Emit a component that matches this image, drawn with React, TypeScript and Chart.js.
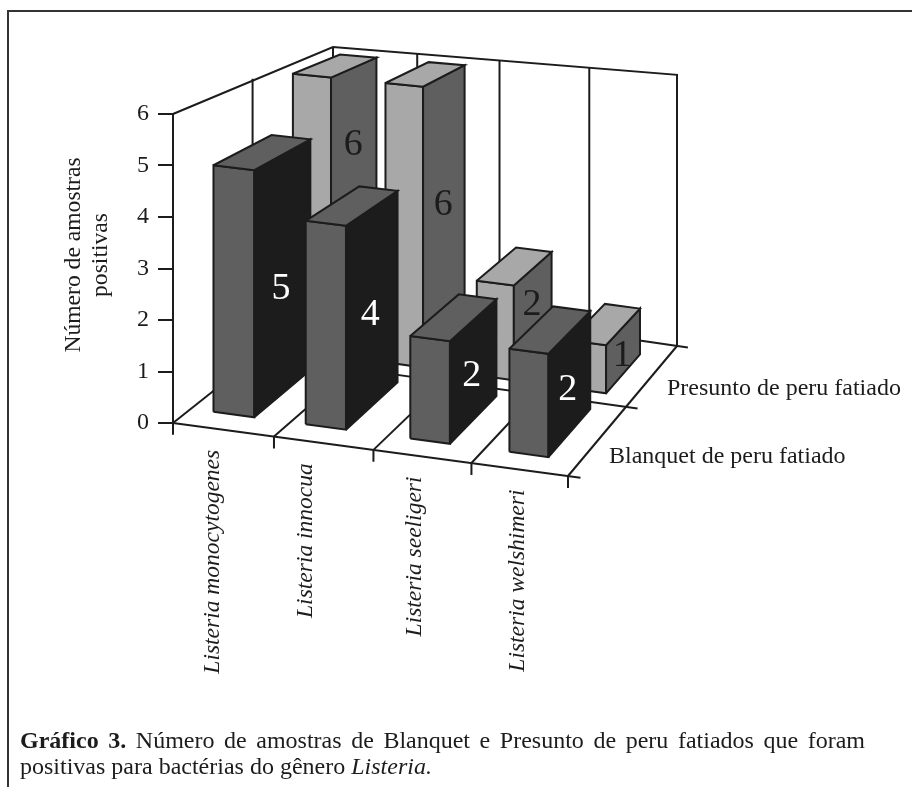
import React, { useEffect, useRef } from "react";
import { Chart, registerables } from "chart.js";

Chart.register(...registerables);

// ---- data ----
const categories = ["Listeria monocytogenes", "Listeria innocua", "Listeria seeligeri", "Listeria welshimeri"];
const seriesNames = ["Blanquet de peru fatiado", "Presunto de peru fatiado"];
const blanquetValues = [5, 4, 2, 2];
const presuntoValues = [6, 6, 2, 1];
const valueTicks = [0, 1, 2, 3, 4, 5, 6];
const axisTitle = ["Número de amostras", "positivas"];
// height (in axis units) at which each value label sits on the bar's side face
const blanquetLabelAt = [2.14, 1.86, 0.88, 0.87];
const presuntoLabelAt = [4.28, 3.16, 1.23, 0.4];
// centre of each bar along the category axis
const blanquetCentres = [0.43, 1.36, 2.43, 3.46];
const presuntoCentres = [0.45, 1.45, 2.45, 3.48];
// drawn-height correction per front bar (the source drawing is not perfectly regular)
const blanquetHeightScale = [0.975, 1, 1, 1];
// position of the back-wall gridlines along the category axis, left-wall gridline in depth
const wallGridU = [0.96, 1.91, 2.96];
const wallGridD = [0.93];
// sideways nudge of each rotated category label
const categoryLabelNudge = [-3, -10, 0, 6];

// ---- view geometry ----
const W = 912;
const H = 787;
const Y0 = 423;
const UNIT = 51.5;
const AXIS_X = 173;
const floor = { x00: 173, y00: 423, x10: 568, y10: 476, x11: 677, y11: 346, x01: 333, y01: 296 };
const rise = { h00: 51.5, h10: 52.5, h11: 45.2, h01: 41.5 };
const BAR_W = 0.41;
const DEPTH_A = [0.2, 0.15];
const DEPTH_B = [0.9, 0.79];
const INK = "#1c1c1c";
const SERIF = '"Liberation Serif", "Times New Roman", serif';

const dx1 = floor.x10 - floor.x11, dx2 = floor.x01 - floor.x11, sx = floor.x00 - floor.x10 + floor.x11 - floor.x01;
const dy1 = floor.y10 - floor.y11, dy2 = floor.y01 - floor.y11, sy = floor.y00 - floor.y10 + floor.y11 - floor.y01;
const det = dx1 * dy2 - dx2 * dy1;
const g = (sx * dy2 - dx2 * sy) / det;
const h = (dx1 * sy - sx * dy1) / det;
const ax = floor.x10 - floor.x00 + g * floor.x10, bx = floor.x01 - floor.x00 + h * floor.x01;
const ay = floor.y10 - floor.y00 + g * floor.y10, by = floor.y01 - floor.y00 + h * floor.y01;

// category position u (0..4), depth d (0..2), value v -> chart data point
function project(u: number, d: number, v: number) {
  const s = u / 4, t = d / 2;
  const w = g * s + h * t + 1;
  const px = (ax * s + bx * t + floor.x00) / w;
  const py = (ay * s + by * t + floor.y00) / w;
  const hh = rise.h00 * (1 - s) * (1 - t) + rise.h10 * s * (1 - t) + rise.h11 * s * t + rise.h01 * (1 - s) * t;
  const pixY = py - v * hh;
  return { x: px, y: (Y0 - pixY) / UNIT };
}

type DS = any;
const list: DS[] = [];
function stroke(points: { x: number; y: number }[], width = 2) {
  list.push({ type: "line", data: points, borderColor: INK, borderWidth: width, pointRadius: 0, fill: false, tension: 0, clip: false });
}
function face(points: { x: number; y: number }[], color: string) {
  list.push({
    type: "line", data: [...points, points[0]], borderColor: INK, borderWidth: 2, pointRadius: 0, fill: false,
    tension: 0, clip: false, faceColor: color, borderJoinStyle: "miter",
  });
}

// walls, floor and axis marks
const MAX_V = valueTicks[valueTicks.length - 1];
stroke([project(0, 0, 0), project(0, 0, MAX_V), project(0, 2, MAX_V), project(4, 2, MAX_V), project(4, 2, 0)]);
wallGridD.forEach((d) => stroke([project(0, d, 0), project(0, d, MAX_V)]));
wallGridU.forEach((u) => stroke([project(u, 2, 0), project(u, 2, MAX_V)]));
stroke([project(0, 2, 0), project(0, 2, MAX_V)]);
[0, 1, 2].forEach((d) => stroke([project(0, d, 0), project(4.13, d, 0)]));
[0, 1, 2, 3, 4].forEach((u) => {
  stroke([project(u, 0, 0), project(u, 2, 0)]);
  stroke([project(u, 0, 0), project(u, 0, -0.23)]);
});

function addBar(c: number, row: number, value: number, frontTop: string, side: string) {
  const u0 = c - BAR_W / 2, u1 = c + BAR_W / 2;
  const d0 = row + DEPTH_A[row], d1 = row + DEPTH_B[row];
  face([project(u0, d0, 0), project(u1, d0, 0), project(u1, d0, value), project(u0, d0, value)], frontTop);
  face([project(u1, d0, 0), project(u1, d1, 0), project(u1, d1, value), project(u1, d0, value)], side);
  face([project(u0, d0, value), project(u1, d0, value), project(u1, d1, value), project(u0, d1, value)], frontTop);
}
presuntoValues.forEach((v, i) => addBar(presuntoCentres[i], 1, v, "#a8a8a8", "#5f5f5f"));
blanquetValues.forEach((v, i) => addBar(blanquetCentres[i], 0, v * blanquetHeightScale[i], "#5f5f5f", "#1c1c1c"));
list.forEach((d, i) => (d.order = list.length - i));

const facePlugin = {
  id: "faces",
  beforeDatasetDraw(chart: any, args: any) {
    const ds = chart.data.datasets[args.index];
    if (!ds.faceColor) return;
    const pts = args.meta.data;
    const ctx = chart.ctx;
    ctx.save();
    ctx.beginPath();
    pts.forEach((p: any, k: number) => (k ? ctx.lineTo(p.x, p.y) : ctx.moveTo(p.x, p.y)));
    ctx.closePath();
    ctx.fillStyle = ds.faceColor;
    ctx.fill();
    ctx.restore();
  },
};

const textPlugin = {
  id: "texts",
  beforeDraw(chart: any) {
    const ctx = chart.ctx;
    ctx.save();
    ctx.strokeStyle = "#333";
    ctx.lineWidth = 2;
    ctx.beginPath();
    ctx.moveTo(8, H);
    ctx.lineTo(8, 11);
    ctx.lineTo(W, 11);
    ctx.stroke();
    ctx.restore();
  },
  afterDatasetsDraw(chart: any) {
    const ctx = chart.ctx;
    const xs = chart.scales.x, ys = chart.scales.y;
    const at = (p: { x: number; y: number }) => ({ x: xs.getPixelForValue(p.x), y: ys.getPixelForValue(p.y) });
    ctx.save();
    ctx.fillStyle = INK;

    // value labels on the side faces
    ctx.font = `38px ${SERIF}`;
    ctx.textAlign = "center";
    ctx.textBaseline = "middle";
    const label = (c: number, row: number, value: number, lv: number, color: string, nudge: number) => {
      const u = c + BAR_W / 2;
      const p = at(project(u, row + (DEPTH_A[row] + DEPTH_B[row]) / 2, lv));
      ctx.fillStyle = color;
      ctx.fillText(String(value), p.x + nudge, p.y + 1);
    };
    presuntoValues.forEach((v, i) => label(presuntoCentres[i], 1, v, presuntoLabelAt[i], INK, -1));
    blanquetValues.forEach((v, i) => label(blanquetCentres[i], 0, v, blanquetLabelAt[i], "#ffffff", -2));

    ctx.fillStyle = INK;
    ctx.textBaseline = "alphabetic";

    // category labels
    ctx.font = `italic 23.5px ${SERIF}`;
    categories.forEach((c, i) => {
      const p = at(project(i + 0.5, 0, 0));
      ctx.save();
      ctx.translate(p.x - 2 + categoryLabelNudge[i], p.y + 20);
      ctx.rotate(-Math.PI / 2);
      ctx.textAlign = "right";
      ctx.fillText(c, 0, 0);
      ctx.restore();
    });

    // depth series labels
    ctx.font = `24px ${SERIF}`;
    ctx.textAlign = "left";
    ctx.fillText(seriesNames[1], 667, 395);
    ctx.fillText(seriesNames[0], 609, 463);

    // axis title
    ctx.font = `23.6px ${SERIF}`;
    ctx.textAlign = "center";
    axisTitle.forEach((t, i) => {
      ctx.save();
      ctx.translate(80 + i * 27, 255);
      ctx.rotate(-Math.PI / 2);
      ctx.fillText(t, 0, 0);
      ctx.restore();
    });
    ctx.restore();
  },
};

export default function App() {
  const ref = useRef<HTMLCanvasElement>(null);
  useEffect(() => {
    const chart = new Chart(ref.current!, {
      type: "line",
      data: { datasets: list },
      plugins: [facePlugin, textPlugin],
      options: {
        animation: false,
        responsive: false,
        layout: { padding: { top: 11, bottom: 3.5, left: 0, right: 0 } },
        plugins: { legend: { display: false }, tooltip: { enabled: false } },
        events: [],
        scales: {
          x: { type: "linear", display: false, min: AXIS_X, max: W },
          y: {
            type: "linear",
            min: -7,
            max: 8,
            position: "left",
            afterFit: (s: any) => { s.width = AXIS_X; s.paddingTop = 0; s.paddingBottom = 0; },
            afterBuildTicks: (s: any) => { s.ticks = valueTicks.map((value) => ({ value })); },
            ticks: {
              stepSize: 1,
              padding: 9,
              color: INK,
              font: { family: SERIF, size: 24 },
              autoSkip: false,
              maxRotation: 0,
            },
            grid: { drawOnChartArea: false, drawTicks: true, tickLength: 15, color: INK, lineWidth: 2 },
            border: { display: false },
          },
        },
      },
    } as any);
    return () => chart.destroy();
  }, []);
  const cap: React.CSSProperties = { position: "absolute", left: 20, width: 845, fontFamily: SERIF, fontSize: 24, lineHeight: "26px", color: INK, whiteSpace: "nowrap" };
  return (
    <div style={{ position: "fixed", left: 0, top: 0, width: W, height: H, background: "#fff", overflow: "hidden" }}>
      <canvas ref={ref} width={W} height={H} style={{ position: "absolute", left: 0, top: 0, width: W, height: H }} />
      <div style={{ ...cap, top: 727, textAlign: "justify", textAlignLast: "justify", whiteSpace: "normal" }}>
        <b>Gráfico 3.</b> Número de amostras de Blanquet e Presunto de peru fatiados que foram
      </div>
      <div style={{ ...cap, top: 753 }}>
        positivas para bactérias do gênero <i>Listeria.</i>
      </div>
    </div>
  );
}
